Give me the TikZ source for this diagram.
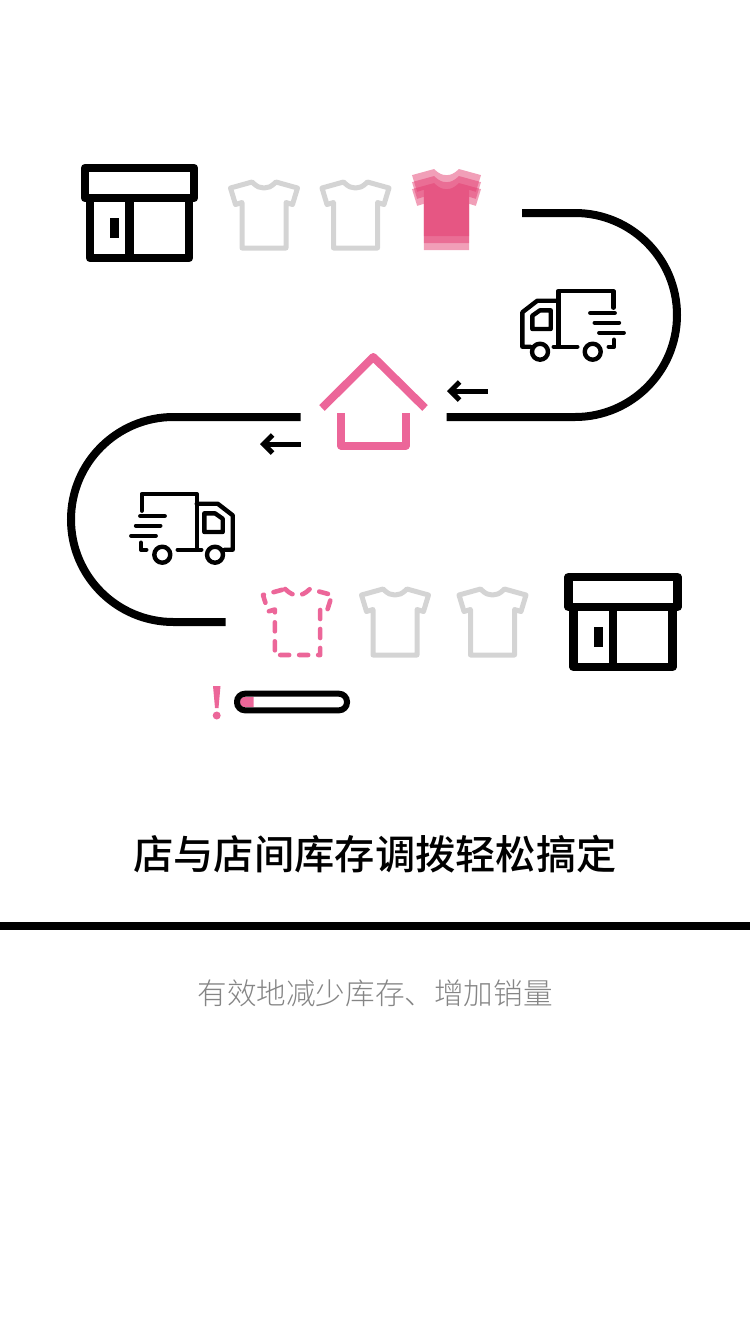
\documentclass[tikz,border=0pt]{standalone}
\usepackage{fontspec}
\usetikzlibrary{arrows.meta}
\newfontfamily\cjkbold{Noto Sans CJK SC Medium}
\newfontfamily\cjklight{Noto Sans CJK SC Light}
\definecolor{rosepink}{HTML}{EC6699}
\definecolor{stackpink}{HTML}{E33F72}
\definecolor{shirtgray}{HTML}{D4D4D4}
\definecolor{subgray}{HTML}{858585}
\newcommand{\shirtoutline}{
  (-12,-33) .. controls (-7,-28) and (-4,-27) .. (0,-27) .. controls (4,-27) and (7,-28) .. (12,-33)
  -- (33.5,-27) -- (28.5,-10.5) -- (22,-12.5) -- (22,33) -- (-22,33) -- (-22,-12.5) -- (-28.5,-10.5) -- (-33.5,-27) -- cycle
}
\tikzset{
  x=1pt,y=-1pt,
  road/.style={line width=8pt},
  shortarrow/.style={line width=5pt,-{Straight Barb[length=9pt,width=18pt,line width=5pt]}},
  shirtline/.style={shirtgray,line width=5pt,line join=round},
  shirt/.pic={\draw[shirtline,#1] \shirtoutline;},
  shirt/.default={},
  store/.pic={
    \draw[line width=8.5pt,line join=round] (-54.5,-45) rectangle (54.5,-15);
    \draw[line width=8.5pt,line join=round] (-49.5,-15) -- (-49.5,45) -- (49.5,45) -- (49.5,-15);
    \draw[line width=8.5pt] (-10,-15) -- (-10,45);
    \fill (-29.5,5) rectangle (-20.5,25);
  },
  truck/.pic={
    \begin{scope}[line width=4.4pt,line join=round,line cap=round]
      \draw (47.3,-12.3) -- (47.3,-29) -- (-7.7,-29) -- (-7.7,26.7);
      \draw (-7.7,-19.3) -- (-28.7,-19.3) -- (-43.7,-7.7) -- (-43.7,26.7) -- (-35.7,26.7);
      \draw (-33.7,-4.3) -- (-26,-9.7) -- (-15.3,-9.7) -- (-15.3,9) -- (-33.7,9) -- cycle;
      \draw (-26,31.7) circle [radius=8pt];
      \draw (26.7,31.7) circle [radius=8pt];
      \draw (-12.3,26.7) -- (11.3,26.7);
      \draw (42.7,26.7) -- (48,26.7) -- (48,19.7);
      \draw (24.3,-7) -- (48.7,-7);
      \draw (28.7,2.7) -- (53,2.7);
      \draw (33.3,12.7) -- (57.7,12.7);
    \end{scope}
  }
}
\begin{document}
\begin{tikzpicture}
  \useasboundingbox (0,0) rectangle (750,1334);

  % stores
  \pic (storeA) at (139.5,213) {store};
  \pic (storeB) at (623,622) {store};

  % shirts
  \foreach \sx/\sy in {264/215,355.5/215,395/622,492.5/622}
    \pic at (\sx,\sy) {shirt};
  \pic (dashedshirt) at (297.5,622) {shirt={rosepink,xscale=1.03,line width=4.6pt,line cap=round,dash pattern=on 9pt off 10pt}};

  % stacked shirt
  \foreach \sy in {202.5,209.5,216.5}
    \fill[stackpink,fill opacity=.5,xshift=446.5pt,yshift=-\sy pt,xscale=1.03,yscale=1.015] \shirtoutline;

  % roads
  \coordinate (roadAstart) at (522,213);
  \coordinate (roadAend) at (446.5,417);
  \coordinate (roadBstart) at (300.5,417);
  \coordinate (roadBend) at (225.5,622);
  \draw[road] (roadAstart) -- (575,213) arc [start angle=90,end angle=-90,radius=102pt] -- (roadAend);
  \draw[road] (roadBstart) -- (173.5,417) arc [start angle=90,end angle=270,radius=102.5pt] -- (roadBend);

  % arrows
  \coordinate (arrowAfrom) at (487.5,391);
  \coordinate (arrowAto) at (447,391);
  \coordinate (arrowBfrom) at (300.5,444);
  \coordinate (arrowBto) at (260,444);
  \draw[shortarrow] (arrowAfrom) -- (arrowAto);
  \draw[shortarrow] (arrowBfrom) -- (arrowBto);

  % trucks
  \pic (truckA) at (566,320) {truck};
  \pic[xscale=-1] (truckB) at (189,523) {truck};

  % house
  \draw[rosepink,line width=8pt,line join=round] (322,408) -- (373.3,357) -- (425,408);
  \draw[rosepink,line width=8pt,line join=round] (340.7,413) -- (340.7,445.5) -- (406,445.5) -- (406,413);

  % stock bar
  \fill[rosepink] (213,686) -- (220.5,686) -- (218.5,708) -- (215,708) -- cycle;
  \fill[rosepink] (216.7,715.5) circle [radius=4pt];
  \fill[rosepink] (253.5,697) -- (245,697) [rounded corners=4pt] -- (240,697) -- (240,707) [sharp corners] -- (253.5,707) -- cycle;
  \draw[line width=6pt,rounded corners=8pt] (237,693.7) rectangle (347,710.3);

  % texts
  \node[inner sep=0pt,font=\cjkbold\fontsize{40.3pt}{41pt}\selectfont] (title) at (375,854) {店与店间库存调拨轻松搞定};
  \fill (0,922) rectangle (750,930);
  \node[inner sep=0pt,text=subgray,font=\cjklight\fontsize{29.6pt}{30pt}\selectfont] (subtitle) at (375,993) {有效地减少库存、增加销量};
\end{tikzpicture}
\end{document}
